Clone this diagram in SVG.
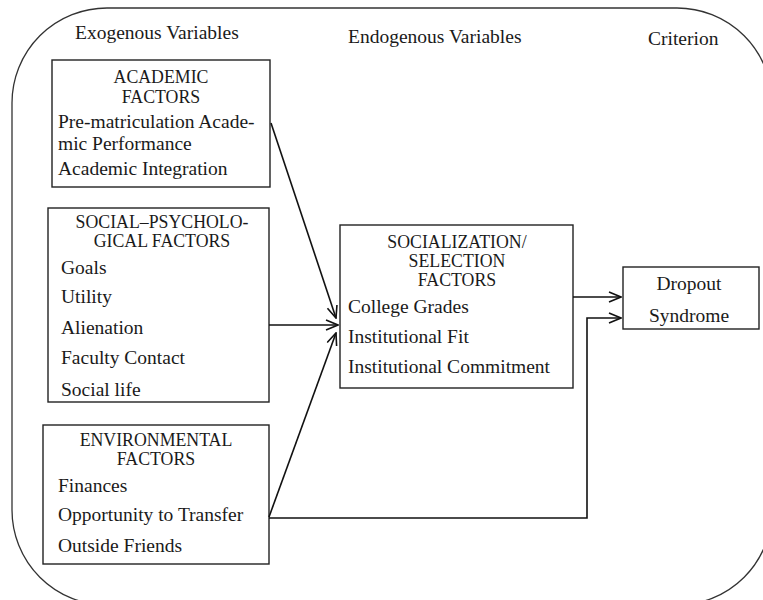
<svg xmlns="http://www.w3.org/2000/svg" width="763" height="600" viewBox="0 0 763 600">
<style>
  text { font-family: "Liberation Serif", "Times New Roman", serif; fill: #1a1a1a; }
  .lbl { font-size: 19.5px; }
  .hd { font-size: 17.8px; text-anchor: middle; }
  .item { font-size: 19.5px; }
  .box { fill: #ffffff; stroke: #222222; stroke-width: 1.4; }
  .frame { fill: none; stroke: #333333; stroke-width: 1.3; }
  .conn { fill: none; stroke: #111111; stroke-width: 1.6; }
</style>
<defs>
  <marker id="arr" viewBox="0 0 14 12" refX="13" refY="6" markerWidth="14" markerHeight="12" markerUnits="userSpaceOnUse" orient="auto">
    <path d="M1,1 L13,6 L1,11" fill="none" stroke="#111111" stroke-width="1.6"/>
  </marker>
</defs>
<rect width="763" height="600" fill="#ffffff"/>
<rect class="frame" x="12" y="8" width="760" height="597" rx="95" ry="95"/>
<g id="section-labels">
  <text class="lbl" x="75" y="39">Exogenous Variables</text>
  <text class="lbl" x="348" y="43">Endogenous Variables</text>
  <text class="lbl" x="648" y="45">Criterion</text>
</g>
<g id="academic">
  <rect class="box" x="52" y="60" width="218" height="127"/>
  <text class="hd" x="161" y="83">ACADEMIC</text>
  <text class="hd" x="161" y="103">FACTORS</text>
  <text class="item" x="58" y="128">Pre-matriculation Acade-</text>
  <text class="item" x="58" y="150">mic Performance</text>
  <text class="item" x="58" y="175">Academic Integration</text>
</g>
<g id="social-psychological">
  <rect class="box" x="48" y="208" width="221" height="194"/>
  <text class="hd" x="162" y="228">SOCIAL–PSYCHOLO-</text>
  <text class="hd" x="162" y="247">GICAL FACTORS</text>
  <text class="item" x="61" y="274">Goals</text>
  <text class="item" x="61" y="303">Utility</text>
  <text class="item" x="61" y="334">Alienation</text>
  <text class="item" x="61" y="364">Faculty Contact</text>
  <text class="item" x="61" y="396">Social life</text>
</g>
<g id="environmental">
  <rect class="box" x="43" y="425" width="226" height="139"/>
  <text class="hd" x="156" y="446">ENVIRONMENTAL</text>
  <text class="hd" x="156" y="465">FACTORS</text>
  <text class="item" x="58" y="492">Finances</text>
  <text class="item" x="58" y="521">Opportunity to Transfer</text>
  <text class="item" x="58" y="552">Outside Friends</text>
</g>
<g id="socialization">
  <rect class="box" x="340" y="225" width="233" height="163"/>
  <text class="hd" x="457" y="248">SOCIALIZATION/</text>
  <text class="hd" x="457" y="267">SELECTION</text>
  <text class="hd" x="457" y="286">FACTORS</text>
  <text class="item" x="348" y="313">College Grades</text>
  <text class="item" x="348" y="343">Institutional Fit</text>
  <text class="item" x="348" y="373">Institutional Commitment</text>
</g>
<g id="dropout">
  <rect class="box" x="623" y="267" width="136" height="62"/>
  <text class="lbl" x="689" y="290" text-anchor="middle">Dropout</text>
  <text class="lbl" x="689" y="322" text-anchor="middle">Syndrome</text>
</g>
<g id="connectors">
  <line class="conn" x1="271" y1="123" x2="336" y2="318" marker-end="url(#arr)"/>
  <line class="conn" x1="269" y1="325" x2="338" y2="325" marker-end="url(#arr)"/>
  <line class="conn" x1="269" y1="517" x2="336" y2="333" marker-end="url(#arr)"/>
  <line class="conn" x1="573" y1="297" x2="621" y2="297" marker-end="url(#arr)"/>
  <polyline class="conn" points="269,518 587,518 587,318 621,318" marker-end="url(#arr)"/>
</g>
</svg>
